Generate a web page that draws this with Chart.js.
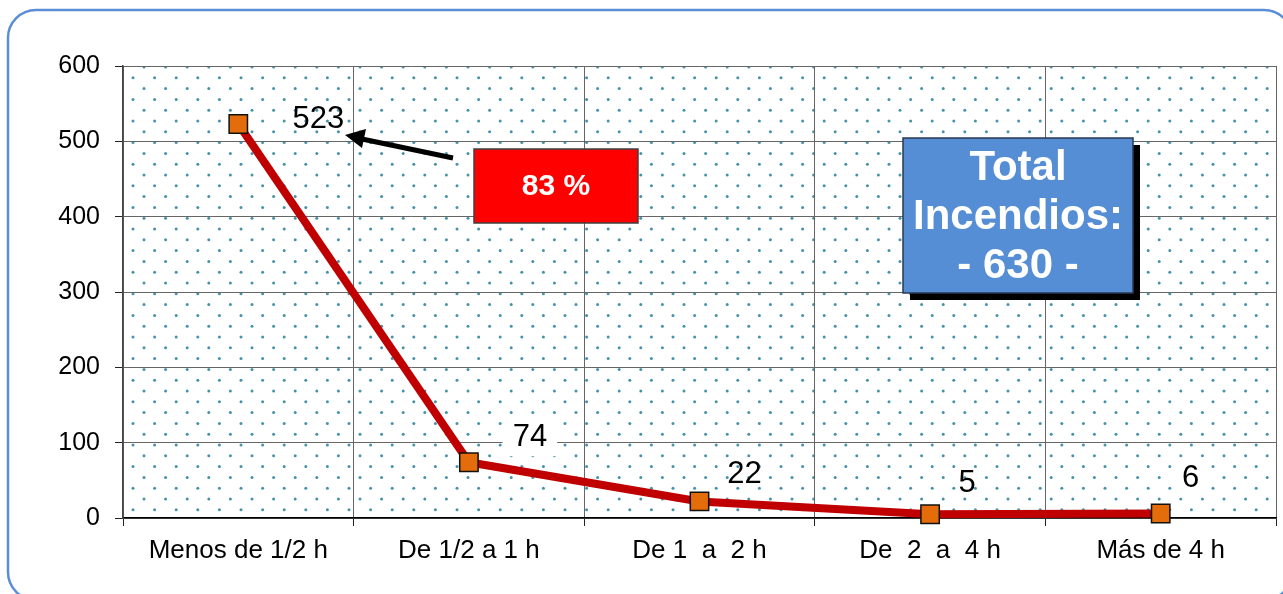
<!DOCTYPE html>
<html>
<head>
<meta charset="utf-8">
<script src="https://cdn.jsdelivr.net/npm/chart.js@4.4.1/dist/chart.umd.min.js"></script>
<style>
  html, body { margin: 0; padding: 0; background: #fff; overflow: hidden; }
  #chart { display: block; }
</style>
</head>
<body>
<canvas id="chart" width="1283" height="594"></canvas>
<script>
"use strict";

// Data
const categories = ["Menos de 1/2 h", "De 1/2 a 1 h", "De 1  a  2 h", "De  2  a  4 h", "Más de 4 h"];
const incendios = [523, 74, 22, 5, 6];
const yTicks = [0, 100, 200, 300, 400, 500, 600];
const pctText = "83 %";
const totalLines = ["Total", "Incendios:", "- 630 -"];

const FONT = "'Liberation Sans', Arial, sans-serif";

// label offsets from each point (dx, dy) and whether a white box sits behind
const labelOffsets = [[80, -6], [61, -26], [45, -28], [37, -32], [30, -36]];
const labelBoxed = [false, true, false, false, true];

// Frame, dotted background, annotations
const decorPlugin = {
    id: 'decor',
    beforeDraw(chart) {
        const ctx = chart.ctx;
        const a = chart.chartArea;
        ctx.save();
        ctx.fillStyle = '#fff';
        ctx.fillRect(0, 0, chart.width, chart.height);

        // rounded blue frame
        ctx.strokeStyle = '#5b8ed8';
        ctx.lineWidth = 2.5;
        ctx.beginPath();
        ctx.roundRect(8, 10, 1284, 590, 28);
        ctx.stroke();

        // dot pattern inside plot area
        ctx.beginPath();
        ctx.rect(a.left, a.top, a.right - a.left, a.bottom - a.top);
        ctx.clip();
        ctx.fillStyle = '#4593aa';
        let row = 0;
        for (let y = a.top + 1; y < a.bottom; y += 10.8, row++) {
            const x0 = a.left + (row % 2 ? 10 : 21);
            for (let x = x0; x < a.right; x += 21.6) {
                ctx.beginPath();
                ctx.arc(x, y, 1.5, 0, Math.PI * 2);
                ctx.fill();
            }
        }
        ctx.restore();
    },
    afterDatasetsDraw(chart) {
        const ctx = chart.ctx;
        const meta = chart.getDatasetMeta(0);
        ctx.save();

        // value labels
        ctx.font = '31px ' + FONT;
        ctx.textAlign = 'center';
        ctx.textBaseline = 'middle';
        meta.data.forEach((pt, i) => {
            const x = pt.x + labelOffsets[i][0];
            const y = pt.y + labelOffsets[i][1];
            const txt = String(incendios[i]);
            if (labelBoxed[i]) {
                const w = ctx.measureText(txt).width + 20;
                ctx.fillStyle = '#fff';
                ctx.fillRect(x - w / 2, y - 20, w, 40);
            }
            ctx.fillStyle = '#000';
            ctx.fillText(txt, x, y + 1);
        });

        // arrow to first label
        ctx.strokeStyle = '#000';
        ctx.fillStyle = '#000';
        ctx.lineWidth = 5;
        ctx.beginPath();
        ctx.moveTo(453, 158);
        ctx.lineTo(362, 139);
        ctx.stroke();
        ctx.beginPath();
        ctx.moveTo(345, 135);
        ctx.lineTo(366, 129);
        ctx.lineTo(362, 148);
        ctx.closePath();
        ctx.fill();

        // red percent box
        ctx.fillStyle = '#ff0000';
        ctx.fillRect(474, 149, 164, 74);
        ctx.strokeStyle = '#404040';
        ctx.lineWidth = 1.5;
        ctx.strokeRect(474, 149, 164, 74);
        ctx.fillStyle = '#fff';
        ctx.font = 'bold 30px ' + FONT;
        ctx.fillText(pctText, 556, 187);

        // blue total box with shadow
        ctx.fillStyle = '#000';
        ctx.fillRect(910, 145, 230, 155);
        ctx.fillStyle = '#558ed5';
        ctx.fillRect(903, 138, 230, 155);
        ctx.strokeStyle = '#2a3a50';
        ctx.lineWidth = 1.5;
        ctx.strokeRect(903, 138, 230, 155);
        ctx.fillStyle = '#fff';
        ctx.font = 'bold 42px ' + FONT;
        totalLines.forEach((t, i) => ctx.fillText(t, 1018, 168 + i * 49));

        ctx.restore();
    }
};

new Chart(document.getElementById('chart'), {
    type: 'line',
    data: {
        labels: categories,
        datasets: [{
            data: incendios,
            clip: false,
            borderColor: '#c00000',
            borderWidth: 8,
            tension: 0,
            pointStyle: 'rect',
            pointRadius: 13,
            pointHoverRadius: 13,
            pointBackgroundColor: '#e46c0a',
            pointBorderColor: '#111',
            pointBorderWidth: 1.5
        }]
    },
    options: {
        responsive: false,
        animation: false,
        events: [],
        layout: { autoPadding: false, padding: { left: 0, top: 66, right: 7, bottom: 0 } },
        plugins: {
            legend: { display: false },
            tooltip: { enabled: false },
            title: { display: false }
        },
        scales: {
            x: {
                offset: true,
                afterFit(scale) { scale.height = 76; },
                grid: {
                    offset: true,
                    color: '#666',
                    lineWidth: 1,
                    borderDash: [1, 1],
                    tickLength: 8,
                    tickColor: '#222',
                    tickBorderDash: [],
                    tickWidth: 1
                },
                border: { display: true, color: '#000', width: 1.5 },
                ticks: {
                    color: '#000',
                    padding: 9,
                    font: { family: FONT, size: 26 },
                    maxRotation: 0,
                    autoSkip: false
                }
            },
            y: {
                min: 0,
                max: 600,
                afterFit(scale) { scale.width = 123; },
                afterBuildTicks(scale) { scale.ticks = yTicks.map(v => ({ value: v })); },
                grid: {
                    color: '#666',
                    lineWidth: 1,
                    borderDash: [1, 1],
                    tickLength: 8,
                    tickColor: '#222',
                    tickBorderDash: [],
                    tickWidth: 1
                },
                border: { display: true, color: '#444', width: 1.5 },
                ticks: {
                    color: '#000',
                    padding: 15,
                    font: { family: FONT, size: 25 }
                }
            }
        }
    },
    plugins: [decorPlugin]
});
</script>
</body>
</html>
